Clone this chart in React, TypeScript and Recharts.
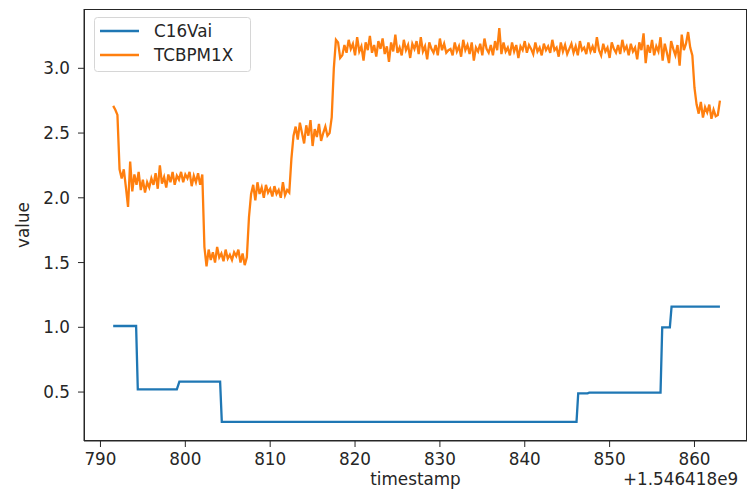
import { Line, LineChart, XAxis, YAxis } from "recharts";

// timestamps are shown relative to this offset, like matplotlib does
const OFFSET_LABEL = "+1.546418e9";

const xTicks = [790, 800, 810, 820, 830, 840, 850, 860];
const yTicks = [0.5, 1.0, 1.5, 2.0, 2.5, 3.0];

// C16Vai: stepwise signal (time, value)
const c16Times = [
  791.5, 794.2, 794.4, 799.0, 799.3, 804.1, 804.3, 846.1, 846.3, 847.4,
  847.6, 856.0, 856.2, 857.1, 857.3, 863.0,
];
const c16Values = [
  1.01, 1.01, 0.52, 0.52, 0.58, 0.58, 0.27, 0.27, 0.49, 0.49,
  0.495, 0.495, 1.0, 1.0, 1.16, 1.16,
];

// TCBPM1X: sampled every 0.25 s starting at 791.5
const tcbStart = 791.5;
const tcbStep = 0.25;
const tcbValues = [
  2.71, 2.68, 2.64, 2.22,
  2.15, 2.22, 2.08, 1.93, 2.28, 2.05, 2.18, 2.1, 2.2, 2.06,
  2.14, 2.04, 2.12, 2.08, 2.15, 2.1, 2.19, 2.07, 2.25, 2.11,
  2.16, 2.08, 2.18, 2.12, 2.2, 2.1, 2.17, 2.14, 2.2, 2.12,
  2.18, 2.15, 2.2, 2.09, 2.17, 2.12, 2.19, 2.1, 2.18,
  1.62,
  1.47, 1.6, 1.52, 1.58, 1.5, 1.62, 1.54, 1.57, 1.51, 1.6,
  1.53, 1.56, 1.52, 1.58, 1.55, 1.6, 1.5, 1.57, 1.48, 1.54,
  1.85, 2.03,
  2.1, 1.98, 2.12, 2.03, 2.08, 2.0, 2.1, 2.04, 2.07, 2.01,
  2.09, 2.03, 2.06, 2.0, 2.12, 2.02, 2.06, 2.04,
  2.3, 2.48,
  2.55, 2.45, 2.58, 2.5, 2.42, 2.56, 2.48, 2.6, 2.4, 2.53,
  2.47, 2.57, 2.44, 2.5, 2.55, 2.48, 2.5,
  2.62, 3.0, 3.22,
  3.2, 3.08, 3.1, 3.18, 3.12, 3.22, 3.15, 3.19, 3.1, 3.24,
  3.13, 3.17, 3.06, 3.2, 3.14, 3.25, 3.12, 3.18, 3.09, 3.21,
  3.15, 3.23, 3.11, 3.17, 3.05, 3.2, 3.13, 3.26, 3.12, 3.16,
  3.1, 3.22, 3.14, 3.18, 3.08, 3.19, 3.15, 3.21, 3.11, 3.24,
  3.13, 3.17, 3.07, 3.2, 3.15, 3.12, 3.18, 3.1, 3.23, 3.14,
  3.19, 3.12, 3.14, 3.15, 3.1, 3.2, 3.13, 3.17, 3.09, 3.22,
  3.14, 3.18, 3.11, 3.2, 3.06, 3.16, 3.13, 3.19, 3.1, 3.23,
  3.15, 3.12, 3.18, 3.1, 3.21, 3.14, 3.31, 3.11, 3.2, 3.13,
  3.16, 3.1, 3.2, 3.13, 3.18, 3.08, 3.17, 3.14, 3.21, 3.12,
  3.18, 3.15, 3.11, 3.2, 3.13, 3.16, 3.1, 3.19, 3.14, 3.17,
  3.12, 3.22, 3.14, 3.16, 3.09, 3.2, 3.13, 3.18, 3.11, 3.15,
  3.19, 3.12, 3.17, 3.1, 3.21, 3.14, 3.16, 3.11, 3.2, 3.13,
  3.17, 3.12, 3.24, 3.14, 3.1, 3.19, 3.13, 3.16, 3.08, 3.2,
  3.15, 3.12, 3.18, 3.11, 3.22, 3.14, 3.17, 3.1, 3.19, 3.13,
  3.16, 3.07, 3.2, 3.14, 3.27, 3.04, 3.18, 3.12, 3.22, 3.1,
  3.17, 3.13, 3.24, 3.06, 3.19, 3.12, 3.04, 3.21, 3.15, 3.1,
  3.18, 3.02, 3.26, 3.14, 3.19, 3.28, 3.16,
  3.1, 2.85, 2.72,
  2.65, 2.74, 2.62, 2.7, 2.66, 2.72, 2.61, 2.68, 2.63, 2.64, 2.75,
];

const BLUE = "#1f77b4";
const ORANGE = "#ff7f0e";
const INK = "#262626";
const FONT = "DejaVu Sans, sans-serif";
const FS = 16.8;

const c16Data = c16Times.map((t, i) => ({ t, v: c16Values[i] }));
const tcbData = tcbValues.map((v, i) => ({ t: tcbStart + i * tcbStep, v }));

const tickStyle = { fontSize: FS, fill: INK, fontFamily: FONT };

export default function App() {
  return (
    <div style={{ position: "absolute", left: 0, top: 0, width: 749, height: 490, background: "#fff" }}>
      <LineChart width={749} height={490} margin={{ top: 9, right: 2, left: 0, bottom: 0 }}>
        <XAxis
          dataKey="t"
          type="number"
          domain={[788.06, 866.19]}
          ticks={xTicks}
          height={49}
          tickSize={6}
          tickMargin={6}
          tick={tickStyle}
          stroke={INK}
          allowDataOverflow
        />
        <YAxis
          type="number"
          domain={[0.122, 3.458]}
          ticks={yTicks}
          width={84}
          tickSize={6}
          tickMargin={8}
          tick={tickStyle}
          tickFormatter={(v: number) => v.toFixed(1)}
          stroke={INK}
          allowDataOverflow
        />
        <Line
          data={c16Data}
          dataKey="v"
          name="C16Vai"
          type="linear"
          stroke={BLUE}
          strokeWidth={2.3}
          dot={false}
          isAnimationActive={false}
        />
        <Line
          data={tcbData}
          dataKey="v"
          name="TCBPM1X"
          type="linear"
          stroke={ORANGE}
          strokeWidth={2.3}
          dot={false}
          isAnimationActive={false}
        />
      </LineChart>
      <svg
        width={749}
        height={490}
        style={{ position: "absolute", left: 0, top: 0, pointerEvents: "none" }}
        fontFamily={FONT}
        fontSize={FS}
        fill={INK}
      >
        {/* axes frame (top and right spines) */}
        <rect x={84.5} y={9.5} width={662} height={431} fill="none" stroke={INK} />
        <rect x={94.5} y={17.5} width={156} height={54} rx={3} fill="#fff" fillOpacity={0.8} stroke="#d6d6d6" />
        <line x1={100} x2={139} y1={31} y2={31} stroke={BLUE} strokeWidth={2.3} />
        <text x={154} y={37}>C16Vai</text>
        <line x1={100} x2={139} y1={55} y2={55} stroke={ORANGE} strokeWidth={2.3} />
        <text x={154} y={61}>TCBPM1X</text>
        <text transform="translate(29,225) rotate(-90)" textAnchor="middle">value</text>
        <text x={415.5} y={485} textAnchor="middle">timestamp</text>
        <text x={623} y={485}>{OFFSET_LABEL}</text>
      </svg>
    </div>
  );
}
